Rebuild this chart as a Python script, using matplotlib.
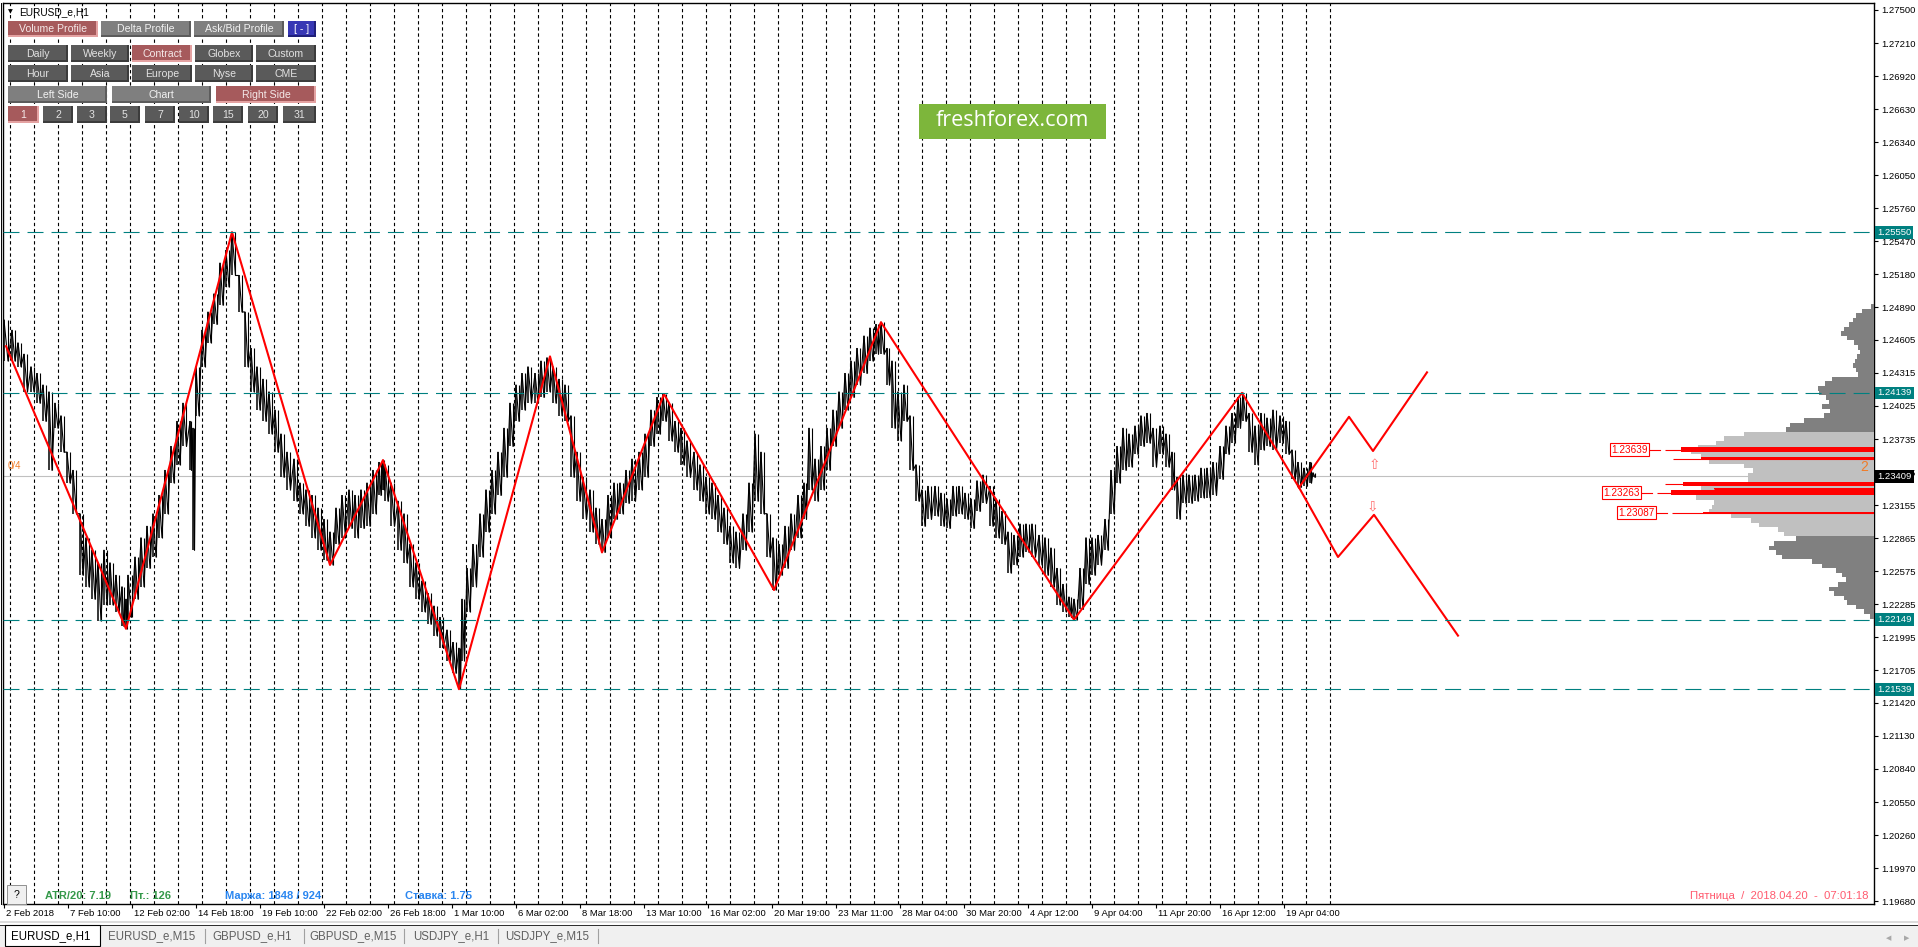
import numpy as np
import matplotlib
matplotlib.use('Agg')
import matplotlib.pyplot as plt
from matplotlib.patches import Rectangle
from matplotlib.lines import Line2D
from matplotlib.transforms import ScaledTranslation, blended_transform_factory

plt.rcParams['font.family'] = ['Liberation Sans', 'DejaVu Sans']
plt.rcParams['lines.scale_dashes'] = False

# ---------------- data ----------------
# hourly bar number (0 = 5 Feb 2018 00:00) of each 6-hour price sample
bar_index = [-6, 2, 8, 14, 21, 27, 33, 39, 45, 51,
             57, 63, 70, 76, 82, 88, 94, 100, 106, 112,
             116, 118, 125, 131, 137, 143, 149, 155, 161, 167,
             173, 180, 183, 186, 192, 198, 204, 210, 216, 222,
             229, 235, 241, 247, 253, 259, 265, 271, 277, 284,
             290, 296, 302, 308, 314, 320, 326, 332, 339, 345,
             351, 357, 363, 369, 373, 375, 381, 388, 394, 400,
             406, 412, 418, 424, 430, 437, 443, 449, 452, 457,
             463, 470, 476, 482, 488, 494, 500, 506, 512, 518,
             525, 531, 537, 543, 549, 555, 561, 567, 573, 580,
             586, 592, 598, 604, 610, 616, 622, 629, 635, 641,
             647, 653, 659, 665, 671, 677, 684, 690, 696, 702,
             708, 714, 720, 726, 733, 739, 745, 751, 757, 763,
             769, 775, 781, 788, 794, 799, 805, 811, 817, 823,
             829, 835, 841, 847, 854, 860, 866, 871, 877, 882,
             888, 894, 900, 906, 912, 918, 925, 931, 937, 943,
             949, 955, 961, 967, 973, 980, 986, 992, 998, 1004,
             1010, 1016, 1022, 1029, 1035, 1041, 1047, 1053, 1059, 1064,
             1070, 1076, 1082, 1088, 1095, 1101, 1107, 1113, 1119, 1125,
             1131, 1137, 1143, 1150, 1156, 1162, 1167, 1173, 1179, 1185,
             1191, 1197, 1203, 1210, 1216, 1222, 1228, 1233, 1239, 1245,
             1251, 1257, 1263, 1270, 1276, 1282, 1288, 1294, 1300, 1303]

bar_high = [1.2478, 1.2469, 1.2458, 1.2448, 1.2437, 1.2431, 1.2421, 1.2415, 1.2405, 1.2394,
            1.2362, 1.2346, 1.2308, 1.2287, 1.2276, 1.2265, 1.2276, 1.2265, 1.2254, 1.2244,
            1.2233, 1.2254, 1.2270, 1.2287, 1.2297, 1.2308, 1.2324, 1.2346, 1.2367, 1.2389,
            1.2405, 1.2389, 1.2383, 1.2437, 1.2469, 1.2485, 1.2501, 1.2528, 1.2539, 1.2555,
            1.2517, 1.2485, 1.2453, 1.2437, 1.2426, 1.2415, 1.2399, 1.2378, 1.2362, 1.2356,
            1.2335, 1.2329, 1.2324, 1.2313, 1.2303, 1.2292, 1.2313, 1.2324, 1.2329, 1.2324,
            1.2329, 1.2335, 1.2346, 1.2353, 1.2355, 1.2351, 1.2335, 1.2319, 1.2308, 1.2281,
            1.2265, 1.2249, 1.2238, 1.2227, 1.2217, 1.2206, 1.2195, 1.2190, 1.2233, 1.2260,
            1.2281, 1.2308, 1.2329, 1.2346, 1.2362, 1.2383, 1.2405, 1.2421, 1.2431, 1.2437,
            1.2431, 1.2442, 1.2445, 1.2437, 1.2426, 1.2421, 1.2394, 1.2362, 1.2340, 1.2329,
            1.2313, 1.2303, 1.2324, 1.2335, 1.2335, 1.2346, 1.2356, 1.2362, 1.2378, 1.2399,
            1.2410, 1.2413, 1.2405, 1.2389, 1.2383, 1.2372, 1.2362, 1.2351, 1.2340, 1.2335,
            1.2324, 1.2313, 1.2297, 1.2292, 1.2308, 1.2335, 1.2378, 1.2362, 1.2308, 1.2287,
            1.2281, 1.2297, 1.2308, 1.2324, 1.2335, 1.2383, 1.2356, 1.2367, 1.2383, 1.2399,
            1.2415, 1.2431, 1.2442, 1.2453, 1.2464, 1.2471, 1.2474, 1.2476, 1.2453, 1.2442,
            1.2415, 1.2421, 1.2394, 1.2351, 1.2329, 1.2332, 1.2332, 1.2326, 1.2321, 1.2332,
            1.2332, 1.2326, 1.2321, 1.2337, 1.2342, 1.2332, 1.2321, 1.2310, 1.2292, 1.2289,
            1.2299, 1.2299, 1.2299, 1.2289, 1.2287, 1.2278, 1.2260, 1.2246, 1.2235, 1.2233,
            1.2260, 1.2287, 1.2287, 1.2289, 1.2303, 1.2346, 1.2367, 1.2383, 1.2378, 1.2385,
            1.2394, 1.2396, 1.2383, 1.2385, 1.2378, 1.2362, 1.2340, 1.2342, 1.2342, 1.2342,
            1.2348, 1.2348, 1.2353, 1.2367, 1.2385, 1.2396, 1.2410, 1.2414, 1.2396, 1.2385,
            1.2396, 1.2392, 1.2399, 1.2394, 1.2389, 1.2364, 1.2353, 1.2348, 1.2353, 1.2344]

bar_low = [1.2442, 1.2442, 1.2437, 1.2415, 1.2415, 1.2405, 1.2389, 1.2346, 1.2383, 1.2362,
           1.2335, 1.2308, 1.2254, 1.2244, 1.2233, 1.2214, 1.2228, 1.2228, 1.2222, 1.2209,
           1.2207, 1.2217, 1.2233, 1.2244, 1.2260, 1.2270, 1.2287, 1.2308, 1.2335, 1.2351,
           1.2367, 1.2346, 1.2276, 1.2394, 1.2437, 1.2458, 1.2474, 1.2491, 1.2507, 1.2517,
           1.2485, 1.2437, 1.2415, 1.2399, 1.2389, 1.2378, 1.2362, 1.2340, 1.2329, 1.2319,
           1.2308, 1.2297, 1.2287, 1.2276, 1.2267, 1.2263, 1.2281, 1.2287, 1.2295, 1.2287,
           1.2295, 1.2297, 1.2308, 1.2324, 1.2329, 1.2319, 1.2297, 1.2276, 1.2265, 1.2244,
           1.2233, 1.2222, 1.2211, 1.2201, 1.2190, 1.2179, 1.2168, 1.2154, 1.2179, 1.2222,
           1.2244, 1.2270, 1.2292, 1.2308, 1.2324, 1.2340, 1.2367, 1.2389, 1.2399, 1.2405,
           1.2405, 1.2410, 1.2415, 1.2405, 1.2394, 1.2389, 1.2340, 1.2319, 1.2303, 1.2292,
           1.2281, 1.2274, 1.2287, 1.2303, 1.2308, 1.2317, 1.2319, 1.2329, 1.2340, 1.2367,
           1.2378, 1.2389, 1.2372, 1.2362, 1.2351, 1.2340, 1.2329, 1.2319, 1.2308, 1.2303,
           1.2292, 1.2281, 1.2265, 1.2260, 1.2276, 1.2292, 1.2319, 1.2308, 1.2270, 1.2241,
           1.2254, 1.2260, 1.2276, 1.2287, 1.2303, 1.2329, 1.2319, 1.2329, 1.2346, 1.2367,
           1.2383, 1.2399, 1.2410, 1.2421, 1.2431, 1.2442, 1.2448, 1.2448, 1.2421, 1.2383,
           1.2372, 1.2389, 1.2346, 1.2319, 1.2297, 1.2303, 1.2306, 1.2297, 1.2295, 1.2306,
           1.2308, 1.2303, 1.2295, 1.2310, 1.2317, 1.2297, 1.2287, 1.2281, 1.2256, 1.2263,
           1.2270, 1.2274, 1.2270, 1.2263, 1.2254, 1.2244, 1.2228, 1.2222, 1.2217, 1.2215,
           1.2224, 1.2246, 1.2254, 1.2263, 1.2276, 1.2308, 1.2335, 1.2346, 1.2349, 1.2360,
           1.2367, 1.2370, 1.2349, 1.2360, 1.2349, 1.2329, 1.2303, 1.2317, 1.2317, 1.2319,
           1.2322, 1.2322, 1.2324, 1.2338, 1.2360, 1.2370, 1.2383, 1.2389, 1.2362, 1.2351,
           1.2364, 1.2367, 1.2364, 1.2370, 1.2360, 1.2338, 1.2331, 1.2332, 1.2335, 1.2340]

# ZigZag indicator vertices and projections
zz_bar = [-4, 116, 222, 320, 373, 449, 540, 592, 654, 764, 871, 1064, 1232, 1289]
zz_price = [1.2455, 1.2207, 1.2555, 1.2263, 1.2355, 1.2154, 1.2446, 1.2274,
            1.2413, 1.2241, 1.2476, 1.2215, 1.2414, 1.2331]
proj_up_bar = [1289, 1339, 1363, 1417]
proj_up_price = [1.2331, 1.2393, 1.2363, 1.2432]
proj_dn_bar = [1289, 1328, 1364, 1448]
proj_dn_price = [1.2331, 1.2270, 1.2307, 1.2201]
arrow_up = (1364, 1.2351)
arrow_dn = (1362, 1.2314)

# horizontal levels
key_levels = [1.25550, 1.24139, 1.22149, 1.21539]
current_price = 1.23409

# axis ticks
ytick_vals = [1.27500, 1.27210, 1.26920, 1.26630, 1.26340, 1.26050, 1.25760, 1.25470,
              1.25180, 1.24890, 1.24605, 1.24315, 1.24025, 1.23735, 1.23445, 1.23155,
              1.22865, 1.22575, 1.22285, 1.21995, 1.21705, 1.21420, 1.21130, 1.20840,
              1.20550, 1.20260, 1.19970, 1.19680]
xtick_bar = [-6, 58, 122, 186, 250, 314, 378, 442, 506, 570, 634, 698, 762, 826,
             890, 954, 1018, 1082, 1146, 1210, 1274]
xtick_labels = ["2 Feb 2018", "7 Feb 10:00", "12 Feb 02:00", "14 Feb 18:00", "19 Feb 10:00",
                "22 Feb 02:00", "26 Feb 18:00", "1 Mar 10:00", "6 Mar 02:00", "8 Mar 18:00",
                "13 Mar 10:00", "16 Mar 02:00", "20 Mar 19:00", "23 Mar 11:00", "28 Mar 04:00",
                "30 Mar 20:00", "4 Apr 12:00", "9 Apr 04:00", "11 Apr 20:00", "16 Apr 12:00",
                "19 Apr 04:00"]
n_days = 56  # daily period separators (every 24 bars)

# volume profile (price level, relative volume)
prof_price = [1.2490, 1.2486, 1.2482, 1.2478, 1.2474, 1.2470, 1.2466, 1.2462, 1.2458, 1.2454,
              1.2450, 1.2446, 1.2442, 1.2438, 1.2434, 1.2430, 1.2426, 1.2422, 1.2418, 1.2414,
              1.2410, 1.2406, 1.2402, 1.2398, 1.2394, 1.2390, 1.2386, 1.2382, 1.2378, 1.2374,
              1.2370, 1.2366, 1.2362, 1.2358, 1.2354, 1.2350, 1.2346, 1.2342, 1.2338, 1.2334,
              1.2330, 1.2326, 1.2322, 1.2318, 1.2314, 1.2310, 1.2306, 1.2302, 1.2298, 1.2294,
              1.2290, 1.2286, 1.2282, 1.2278, 1.2274, 1.2270, 1.2266, 1.2262, 1.2258, 1.2254,
              1.2250, 1.2246, 1.2242, 1.2238, 1.2234, 1.2230, 1.2226, 1.2222, 1.2218]
prof_volume = [3, 12, 18, 21, 25, 30, 33, 27, 20, 16,
               14, 17, 19, 21, 18, 16, 42, 49, 56, 55,
               48, 45, 52, 44, 50, 70, 84, 88, 130, 150,
               158, 176, 183, 173, 165, 130, 121, 126, 126, 185,
               173, 200, 178, 160, 162, 165, 143, 123, 115, 96,
               90, 78, 100, 105, 98, 92, 62, 52, 38, 32,
               28, 36, 45, 40, 30, 27, 18, 10, 4]
va_high, va_low = 1.2380, 1.2289
hvn_price = [1.23639, 1.23560, 1.23340, 1.23297, 1.23263, 1.23087]
hvn_volume = [193, 173, 191, 160, 203, 171]
hvn_ext = [209, 201, 209, 160, 217, 202]
hvn_thick_px = [5, 3, 4, 1, 5, 1]
hvn_labels = ["1.23639", None, None, None, "1.23263", "1.23087"]

assert len(bar_index) == len(bar_high) == len(bar_low)
assert len(prof_price) == len(prof_volume)

# ---------------- figure ----------------
W, H = 1918, 947
fig = plt.figure(figsize=(W / 100, H / 100), dpi=100)
fig.patch.set_facecolor('white')


def fx(x):
    return x / W


def fy(y):
    return 1 - y / H


def prect(x0, y0, x1, y1, **kw):
    kw.setdefault('lw', 0)
    r = Rectangle((fx(x0), fy(y1)), (x1 - x0) / W, (y1 - y0) / H,
                  transform=fig.transFigure, **kw)
    fig.add_artist(r)
    return r


AX_L, AX_R, AX_T, AX_B = 3, 1874, 3, 904
rect_ax = [AX_L / W, 1 - AX_B / H, (AX_R - AX_L) / W, (AX_B - AX_T) / H]
ax = fig.add_axes(rect_ax)
x_min = -7
x_max = x_min + (AX_R - AX_L)
y_max, y_min = 1.27561, 1.19655
price_per_px = (y_max - y_min) / (AX_B - AX_T)
ax.set_xlim(x_min, x_max)
ax.set_ylim(y_min, y_max)
ax.set_facecolor('white')
for s in ax.spines.values():
    s.set_color('black')
    s.set_linewidth(1.0)

# day separators
day_starts = [24 * d for d in range(n_days)]
ax.vlines(day_starts, y_min, y_max, colors='black', linewidth=0.8,
          linestyles=[(0, (2.4, 2.0))], zorder=1)

# current price line
ax.axhline(current_price, color='#c0c0c0', lw=0.8, zorder=2)

# price bars (each 6-hour sample drawn as a high-low range, joined as a dense trace)
t = np.array(bar_index, float)
hi = np.array(bar_high)
lo = np.array(bar_low)
gaps = np.diff(t, append=t[-1] + 4)
px = np.empty(2 * len(t))
py = np.empty(2 * len(t))
px[0::2] = t
px[1::2] = t + gaps / 2
py[0::2] = hi
py[1::2] = lo
ax.vlines(t, lo, hi, colors='black', linewidth=1.1, zorder=3)
ax.vlines(t + gaps / 2, lo, hi, colors='black', linewidth=0.8, zorder=3)
ax.plot(px, py, color='black', lw=0.8, zorder=3)

# zigzag
ax.plot(zz_bar, zz_price, color='#ff0000', lw=1.5, zorder=4)
ax.plot(proj_up_bar, proj_up_price, color='#ff0000', lw=1.5, zorder=4)
ax.plot(proj_dn_bar, proj_dn_price, color='#ff0000', lw=1.5, zorder=4)
ax.text(arrow_up[0], arrow_up[1], '\u21e7', color='#ff6f6f', fontsize=10,
        ha='center', va='center', family=['DejaVu Sans'], zorder=5)
ax.text(arrow_dn[0], arrow_dn[1], '\u21e9', color='#ff6f6f', fontsize=10,
        ha='center', va='center', family=['DejaVu Sans'], zorder=5)

# y axis on the right
ax.yaxis.tick_right()
ax.set_yticks(ytick_vals)
ax.set_yticklabels([f'{v:.5f}' for v in ytick_vals])
ax.tick_params(axis='y', length=3, width=0.8, pad=2.5, labelsize=6.8,
               direction='out', colors='black')

# x axis
ax.set_xticks(xtick_bar)
ax.set_xticklabels([''] * len(xtick_bar))
ax.tick_params(axis='x', length=3, width=0.8, direction='out')
xtrans = blended_transform_factory(ax.transData, ax.transAxes) + \
    ScaledTranslation(2 / 100, -5 / 100, fig.dpi_scale_trans)
for b, lab in zip(xtick_bar, xtick_labels):
    ax.text(b, 0, lab, transform=xtrans, ha='left', va='top', fontsize=6.8,
            clip_on=False)

# highlighted price labels on the right axis
for p in key_levels:
    ax.annotate(f'{p:.5f}', xy=(1, p), xycoords=('axes fraction', 'data'),
                xytext=(2.4, 0), textcoords='offset points', ha='left', va='center',
                fontsize=6.8, color='white', annotation_clip=False, zorder=6,
                bbox=dict(boxstyle='square,pad=0.2', fc='#008080', ec='none'))
ax.annotate(f'{current_price:.5f}', xy=(1, current_price),
            xycoords=('axes fraction', 'data'), xytext=(2.4, 0),
            textcoords='offset points', ha='left', va='center', fontsize=6.8,
            color='white', annotation_clip=False, zorder=6,
            bbox=dict(boxstyle='square,pad=0.2', fc='black', ec='none'))

# ---------------- volume profile overlay ----------------
ax2 = fig.add_axes(rect_ax, facecolor='none')
ax2.set_xlim(AX_R - AX_L, 0)
ax2.set_ylim(y_min, y_max)
ax2.axis('off')
prof_colors = ['#c0c0c0' if va_low <= p <= va_high else '#808080' for p in prof_price]
ax2.barh(prof_price, prof_volume, height=0.0004, left=0, color=prof_colors,
         edgecolor='none', linewidth=0, zorder=1)
ax2.hlines(hvn_price, 0, hvn_ext, colors='#ff0000', lw=0.8, zorder=2)
ax2.barh(hvn_price, hvn_volume, height=[k * price_per_px for k in hvn_thick_px],
         left=0, color='#ff0000', edgecolor='none', linewidth=0, zorder=2)
for p, e, lab in zip(hvn_price, hvn_ext, hvn_labels):
    if lab is None:
        continue
    ax2.plot([e + 5, e + 15], [p, p], color='#ff0000', lw=0.8, zorder=3)
    ax2.text(e + 17, p, lab, ha='right', va='center', fontsize=7.2, color='#ff0000',
             zorder=4, bbox=dict(boxstyle='square,pad=0.15', fc='white',
                                 ec='#ff0000', lw=0.8))
ax2.text(6, 1.2349, '2', color='#f07c28', fontsize=10, ha='right', va='center', zorder=4)
# key level lines drawn above the profile
for p in key_levels:
    ax2.axhline(p, color='#008080', lw=0.8, dashes=(11.5, 5.8), zorder=5)

# ---------------- panel decorations ----------------
# left window border
fig.add_artist(Line2D([fx(0.8), fx(0.8)], [fy(AX_T), fy(AX_B)], color='black', lw=0.7,
                      transform=fig.transFigure))

# title
fig.text(fx(10), fy(12), '\u25bc', fontsize=4.5, ha='center', va='center',
         family=['DejaVu Sans'])
fig.text(fx(19), fy(12), 'EURUSD_e,H1', fontsize=7.3, ha='left', va='center')

btn_styles = {
    'red': ('#a65a5c', '#e4a2a2', '#f4e8e8'),
    'dark': ('#5a5a5a', '#3c3c3c', '#e2e2e2'),
    'mid': ('#7f7f7f', '#5c5c5c', '#f2f2f2'),
    'blue': ('#3737b4', '#20207a', '#ffffff'),
}


def button(x0, y0, x1, y1, label, kind):
    face, edge, tc = btn_styles[kind]
    prect(x0, y0, x1, y1, fc=face)
    prect(x0, y1 - 2, x1, y1, fc=edge)
    prect(x1 - 2, y0, x1, y1, fc=edge)
    fig.text(fx((x0 + x1) / 2), fy((y0 + y1) / 2 + 0.5), label, ha='center',
             va='center', color=tc, fontsize=7.6)


button(8, 21, 98, 37, 'Volume Profile', 'red')
button(101, 21, 191, 37, 'Delta Profile', 'mid')
button(194, 21, 284, 37, 'Ask/Bid Profile', 'mid')
button(288, 21, 316, 37, '[ - ]', 'blue')
row_x = [(8, 68), (71, 129), (132, 192), (195, 253), (256, 316)]
for (a, b), lab in zip(row_x, ['Daily', 'Weekly', 'Contract', 'Globex', 'Custom']):
    button(a, 45, b, 62, lab, 'red' if lab == 'Contract' else 'dark')
for (a, b), lab in zip(row_x, ['Hour', 'Asia', 'Europe', 'Nyse', 'CME']):
    button(a, 65, b, 82, lab, 'dark')
button(8, 86, 107, 103, 'Left Side', 'mid')
button(112, 86, 211, 103, 'Chart', 'mid')
button(216, 86, 316, 103, 'Right Side', 'red')
num_x = [(8, 39), (43, 73), (77, 107), (110, 140), (145, 175), (179, 209),
         (213, 243), (248, 278), (283, 316)]
for (a, b), lab in zip(num_x, ['1', '2', '3', '5', '7', '10', '15', '20', '31']):
    button(a, 106, b, 123, lab, 'red' if lab == '1' else 'dark')

# watermark
prect(919, 104, 1106, 139, fc='#7db63b')
fig.text(fx(1012.5), fy(121), 'freshforex.com', ha='center', va='center',
         color='white', fontsize=15.5, family=['Open Sans', 'DejaVu Sans'])

# left marker text
fig.text(fx(8), fy(466), '0/4', color='#f07c28', fontsize=7, ha='left', va='center')

# bottom info line
prect(7, 885, 26, 904, fc='#f0f0f0', ec='#909090', lw=0.7)
fig.text(fx(16.5), fy(894.5), '?', ha='center', va='center', fontsize=7.5)
fig.text(fx(45), fy(896), 'ATR/20: 7.19', color='#35994a', fontsize=8,
         weight='bold', ha='left', va='center')
fig.text(fx(130), fy(896), 'Пт.: 126', color='#35994a', fontsize=8,
         weight='bold', ha='left', va='center')
fig.text(fx(225), fy(896), 'Маржа: 1848 / 924', color='#2a86f0', fontsize=8,
         weight='bold', ha='left', va='center')
fig.text(fx(405), fy(896), 'Ставка: 1.75', color='#2a86f0', fontsize=8,
         weight='bold', ha='left', va='center')
fig.text(fx(1868), fy(896), 'Пятница  /  2018.04.20  -  07:01:18', color='#ff5a6e',
         fontsize=8.2, ha='right', va='center')

# tab bar
prect(0, 921, W, 923, fc='#dcdcdc')
prect(0, 925, W, 926.2, fc='#303030')
prect(0, 926.2, W, H, fc='#f0f0f0')
prect(5, 925, 100, 946, fc='white', ec='black', lw=0.8)
tab_x = [51, 152, 252, 353, 451, 547]
tab_names = ['EURUSD_e,H1', 'EURUSD_e,M15', 'GBPUSD_e,H1', 'GBPUSD_e,M15',
             'USDJPY_e,H1', 'USDJPY_e,M15']
for i, (x, name) in enumerate(zip(tab_x, tab_names)):
    fig.text(fx(x), fy(936), name, ha='center', va='center', fontsize=8.3,
             color='black' if i == 0 else '#606060')
for x in [205, 304, 404, 498, 598]:
    fig.add_artist(Line2D([fx(x), fx(x)], [fy(929), fy(943)], color='#a0a0a0', lw=0.8,
                          transform=fig.transFigure))
fig.text(fx(1889), fy(938), '\u25c0', fontsize=5, color='#a8a8a8', ha='center',
         va='center', family=['DejaVu Sans'])
fig.text(fx(1907), fy(938), '\u25b6', fontsize=5, color='#a8a8a8', ha='center',
         va='center', family=['DejaVu Sans'])

fig.savefig('out.png', dpi=100)
